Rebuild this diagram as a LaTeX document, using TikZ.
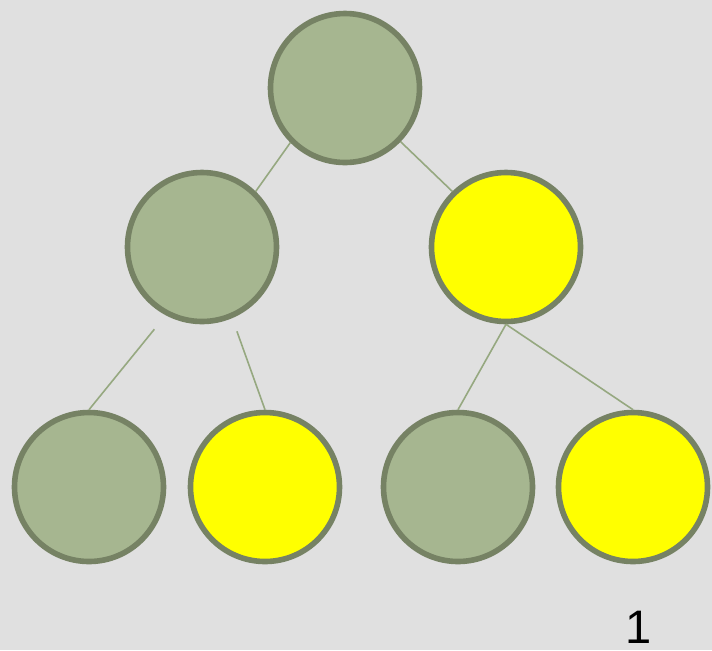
\documentclass[tikz,border=0pt]{standalone}
\usepackage{fontspec}
\setmainfont{Liberation Sans}
\usepackage{tikz}
\definecolor{fondo}{RGB}{224,224,224}
\definecolor{salvia}{RGB}{166,182,144}
\definecolor{salviaborde}{RGB}{118,130,100}
\definecolor{salvialinea}{RGB}{150,168,128}
\definecolor{amarillo}{RGB}{255,255,0}
\tikzset{
  nodo/.style={
    circle,
    draw=salviaborde,
    line width=2.8pt,
    fill=salvia,
    minimum size=74.5pt,
    inner sep=0pt
  },
  marcado/.style={
    nodo,
    fill=amarillo
  },
  arista/.style={
    draw=salvialinea,
    line width=0.8pt
  }
}

\begin{document}
\begin{tikzpicture}[x=0.5pt,y=-0.5pt]
\fill[fondo] (0,0) rectangle (712,650);
\useasboundingbox (0,0) rectangle (712,650);
\node[nodo] (raiz) at (345,88) {};
\node[nodo] (izq) at (202,247) {};
\node[marcado] (der) at (506,247) {};
\node[nodo] (ii) at (89,487) {};
\node[marcado] (id) at (265,487) {};
\node[nodo] (di) at (458,487) {};
\node[marcado] (dd) at (633,487) {};
\draw[arista] (raiz.225) -- (izq.46);
\draw[arista] (raiz.-44) -- (der.134);
\draw[arista,shorten <=9pt] (izq.242) -- (ii.north);
\draw[arista,shorten <=7pt] (izq.293) -- (id.north);
\draw[arista] (der.south) -- (di.north);
\draw[arista] (der.south) -- (dd.north);
\node[font=\fontsize{23.5}{28}\selectfont,anchor=base,inner sep=0pt] (num) at (639,643) {1};
\end{tikzpicture}
\end{document}
